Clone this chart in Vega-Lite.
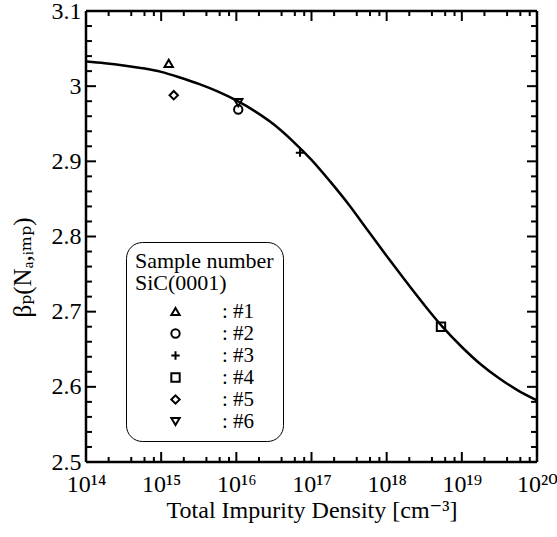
{
  "$schema": "https://vega.github.io/schema/vega-lite/v6.json",
  "width": 451,
  "height": 451,
  "autosize": {"type": "none"},
  "padding": {"left": 86, "top": 11, "right": 20, "bottom": 75},
  "background": "white",
  "view": {"stroke": null},
  "config": {
    "view": {"stroke": null},
    "font": "Liberation Serif",
    "axis": {
      "labelFont": "Liberation Serif, DejaVu Serif",
      "titleFont": "Liberation Serif, DejaVu Serif",
      "labelColor": "black",
      "titleColor": "black",
      "grid": false,
      "titleFontWeight": "normal"
    }
  },
  "datasets": {
    "curve": [
      {"N": 1e14, "beta": 3.0327},
      {"N": 1.778e14, "beta": 3.0305},
      {"N": 3.162e14, "beta": 3.0276},
      {"N": 5.623e14, "beta": 3.0239},
      {"N": 1e15, "beta": 3.019},
      {"N": 1.778e15, "beta": 3.0115},
      {"N": 3.162e15, "beta": 3.003},
      {"N": 5.623e15, "beta": 2.993},
      {"N": 1e16, "beta": 2.981},
      {"N": 1.778e16, "beta": 2.9665},
      {"N": 3.162e16, "beta": 2.949},
      {"N": 5.623e16, "beta": 2.927},
      {"N": 1e17, "beta": 2.902},
      {"N": 1.778e17, "beta": 2.873},
      {"N": 3.162e17, "beta": 2.842},
      {"N": 5.623e17, "beta": 2.808},
      {"N": 1e18, "beta": 2.774},
      {"N": 1.778e18, "beta": 2.741},
      {"N": 3.162e18, "beta": 2.709},
      {"N": 5.623e18, "beta": 2.679},
      {"N": 1e19, "beta": 2.653},
      {"N": 1.778e19, "beta": 2.63},
      {"N": 3.162e19, "beta": 2.611},
      {"N": 5.623e19, "beta": 2.595},
      {"N": 1e20, "beta": 2.582}
    ],
    "pts": [
      {"sample": "#1", "N": 1.26e15, "beta": 3.0304},
      {"sample": "#2", "N": 1.06e16, "beta": 2.969},
      {"sample": "#3", "N": 7.03e16, "beta": 2.9115},
      {"sample": "#4", "N": 5.28e18, "beta": 2.68},
      {"sample": "#5", "N": 1.47e15, "beta": 2.988},
      {"sample": "#6", "N": 1.06e16, "beta": 2.978}
    ],
    "xmaj": [{"N": 1e14}, {"N": 1e15}, {"N": 1e16}, {"N": 1e17}, {"N": 1e18}, {"N": 1e19}, {"N": 1e20}],
    "xmin": [{"N": 2e14}, {"N": 4e14}, {"N": 6e14}, {"N": 8e14}, {"N": 2e15}, {"N": 4e15}, {"N": 6e15}, {"N": 8e15}, {"N": 2e16}, {"N": 4e16}, {"N": 6e16}, {"N": 8e16}, {"N": 2e17}, {"N": 4e17}, {"N": 6e17}, {"N": 8e17}, {"N": 2e18}, {"N": 4e18}, {"N": 6e18}, {"N": 8e18}, {"N": 2e19}, {"N": 4e19}, {"N": 6e19}, {"N": 8e19}],
    "ymaj": [{"beta": 2.5}, {"beta": 2.6}, {"beta": 2.7}, {"beta": 2.8}, {"beta": 2.9}, {"beta": 3.0}, {"beta": 3.1}],
    "ymin": [{"beta": 2.52}, {"beta": 2.54}, {"beta": 2.56}, {"beta": 2.58}, {"beta": 2.62}, {"beta": 2.64}, {"beta": 2.66}, {"beta": 2.68}, {"beta": 2.72}, {"beta": 2.74}, {"beta": 2.76}, {"beta": 2.78}, {"beta": 2.82}, {"beta": 2.84}, {"beta": 2.86}, {"beta": 2.88}, {"beta": 2.92}, {"beta": 2.94}, {"beta": 2.96}, {"beta": 2.98}, {"beta": 3.02}, {"beta": 3.04}, {"beta": 3.06}, {"beta": 3.08}]
  },
  "layer": [
    {
      "data": {"name": "curve"},
      "mark": {"type": "line", "color": "black", "strokeWidth": 2.5, "interpolate": "monotone", "clip": true},
      "encoding": {
        "x": {
          "field": "N", "type": "quantitative",
          "scale": {"type": "log", "domain": [1e14, 1e20], "nice": false},
          "axis": {
            "orient": "bottom",
            "values": [1e14, 1e15, 1e16, 1e17, 1e18, 1e19, 1e20],
            "ticks": false,
            "domain": false,
            "grid": false,
            "labelFont": "Liberation Serif, DejaVu Serif",
            "labelColor": "black",
            "labelFlush": false,
            "labelFontSize": 24,
            "labelPadding": 10,
            "labelExpr": "datum.value < 5e14 ? '10¹⁴' : datum.value < 5e15 ? '10¹⁵' : datum.value < 5e16 ? '10¹⁶' : datum.value < 5e17 ? '10¹⁷' : datum.value < 5e18 ? '10¹⁸' : datum.value < 5e19 ? '10¹⁹' : '10²⁰'",
            "title": "Total Impurity Density [cm⁻³]",
            "titleFont": "Liberation Serif, DejaVu Serif",
            "titleColor": "black",
            "titleFontWeight": "normal",
            "titleFontSize": 24,
            "titlePadding": 2
          }
        },
        "y": {
          "field": "beta", "type": "quantitative",
          "scale": {"domain": [2.5, 3.1], "zero": false, "nice": false},
          "axis": {
            "orient": "left",
            "values": [2.5, 2.6, 2.7, 2.8, 2.9, 3.0, 3.1],
            "ticks": false,
            "domain": false,
            "grid": false,
            "labelFont": "Liberation Serif, DejaVu Serif",
            "labelColor": "black",
            "labelFlush": false,
            "format": ".1~f",
            "labelFontSize": 24,
            "labelPadding": 5,
            "title": "βₚ(Nₐ,ᵢₘₚ)",
            "titleFont": "Liberation Serif, DejaVu Serif",
            "titleColor": "black",
            "titleFontWeight": "normal",
            "titleFontSize": 25,
            "titlePadding": 16,
            "titleY": 256
          }
        }
      }
    },
    {
      "data": {"name": "xmaj"},
      "mark": {"type": "rule", "color": "black", "strokeWidth": 2},
      "encoding": {"x": {"field": "N", "type": "quantitative"}, "y": {"datum": 2.5, "type": "quantitative"}, "y2": {"datum": 2.5133}}
    },
    {
      "data": {"name": "xmaj"},
      "mark": {"type": "rule", "color": "black", "strokeWidth": 2},
      "encoding": {"x": {"field": "N", "type": "quantitative"}, "y": {"datum": 3.1, "type": "quantitative"}, "y2": {"datum": 3.0867}}
    },
    {
      "data": {"name": "xmin"},
      "mark": {"type": "rule", "color": "black", "strokeWidth": 2},
      "encoding": {"x": {"field": "N", "type": "quantitative"}, "y": {"datum": 2.5, "type": "quantitative"}, "y2": {"datum": 2.5067}}
    },
    {
      "data": {"name": "xmin"},
      "mark": {"type": "rule", "color": "black", "strokeWidth": 2},
      "encoding": {"x": {"field": "N", "type": "quantitative"}, "y": {"datum": 3.1, "type": "quantitative"}, "y2": {"datum": 3.0933}}
    },
    {
      "data": {"name": "ymaj"},
      "mark": {"type": "rule", "color": "black", "strokeWidth": 2},
      "encoding": {"y": {"field": "beta", "type": "quantitative"}, "x": {"datum": 1e14, "type": "quantitative"}, "x2": {"datum": 1.358e14}}
    },
    {
      "data": {"name": "ymaj"},
      "mark": {"type": "rule", "color": "black", "strokeWidth": 2},
      "encoding": {"y": {"field": "beta", "type": "quantitative"}, "x": {"datum": 1e20, "type": "quantitative"}, "x2": {"datum": 7.36e19}}
    },
    {
      "data": {"name": "ymin"},
      "mark": {"type": "rule", "color": "black", "strokeWidth": 2},
      "encoding": {"y": {"field": "beta", "type": "quantitative"}, "x": {"datum": 1e14, "type": "quantitative"}, "x2": {"datum": 1.2e14}}
    },
    {
      "data": {"name": "ymin"},
      "mark": {"type": "rule", "color": "black", "strokeWidth": 2},
      "encoding": {"y": {"field": "beta", "type": "quantitative"}, "x": {"datum": 1e20, "type": "quantitative"}, "x2": {"datum": 8.33e19}}
    },
    {
      "data": {"name": "xmaj"},
      "transform": [{"filter": "datum.N < 2e14"}],
      "mark": {"type": "rule", "color": "black", "strokeWidth": 2.5},
      "encoding": {"x": {"datum": 1e14, "type": "quantitative"}, "x2": {"datum": 1e20}, "y": {"datum": 2.5, "type": "quantitative"}}
    },
    {
      "data": {"name": "xmaj"},
      "transform": [{"filter": "datum.N < 2e14"}],
      "mark": {"type": "rule", "color": "black", "strokeWidth": 2.5},
      "encoding": {"x": {"datum": 1e14, "type": "quantitative"}, "x2": {"datum": 1e20}, "y": {"datum": 3.1, "type": "quantitative"}}
    },
    {
      "data": {"name": "xmaj"},
      "transform": [{"filter": "datum.N < 2e14"}],
      "mark": {"type": "rule", "color": "black", "strokeWidth": 2.5},
      "encoding": {"y": {"datum": 2.5, "type": "quantitative"}, "y2": {"datum": 3.1}, "x": {"datum": 1e14, "type": "quantitative"}}
    },
    {
      "data": {"name": "xmaj"},
      "transform": [{"filter": "datum.N < 2e14"}],
      "mark": {"type": "rule", "color": "black", "strokeWidth": 2.5},
      "encoding": {"y": {"datum": 2.5, "type": "quantitative"}, "y2": {"datum": 3.1}, "x": {"datum": 1e20, "type": "quantitative"}}
    },
    {
      "data": {"name": "pts"},
      "mark": {"type": "point", "filled": false, "color": "black", "strokeWidth": 2, "size": 70, "opacity": 1},
      "encoding": {
        "x": {"field": "N", "type": "quantitative"},
        "y": {"field": "beta", "type": "quantitative"},
        "shape": {
          "field": "sample", "type": "nominal",
          "scale": {
            "domain": ["#1", "#2", "#3", "#4", "#5", "#6"],
            "range": ["triangle-up", "circle", "M-1,0L1,0M0,-1L0,1", "square", "diamond", "triangle-down"]
          },
          "legend": {
            "orient": "none",
            "legendX": 40,
            "legendY": 231,
            "title": ["Sample number", "\u00a0\u00a0SiC(0001)"],
            "titleFont": "Liberation Serif",
            "titleFontSize": 22,
            "titleFontWeight": "normal",
            "titleColor": "black",
            "titleLineHeight": 22,
            "titlePadding": 6,
            "labelFont": "Liberation Serif",
            "labelFontSize": 21,
            "labelColor": "black",
            "labelExpr": "':  ' + datum.label",
            "symbolOffset": 30,
            "labelOffset": 36,
            "symbolStrokeColor": "black",
            "symbolStrokeWidth": 2,
            "symbolSize": 70,
            "padding": 9,
            "rowPadding": 0,
            "strokeColor": "black",
            "cornerRadius": 16,
            "fillColor": "white",
            "encode": {"legend": {"update": {"strokeWidth": {"value": 2}}}}
          }
        }
      }
    }
  ]
}
